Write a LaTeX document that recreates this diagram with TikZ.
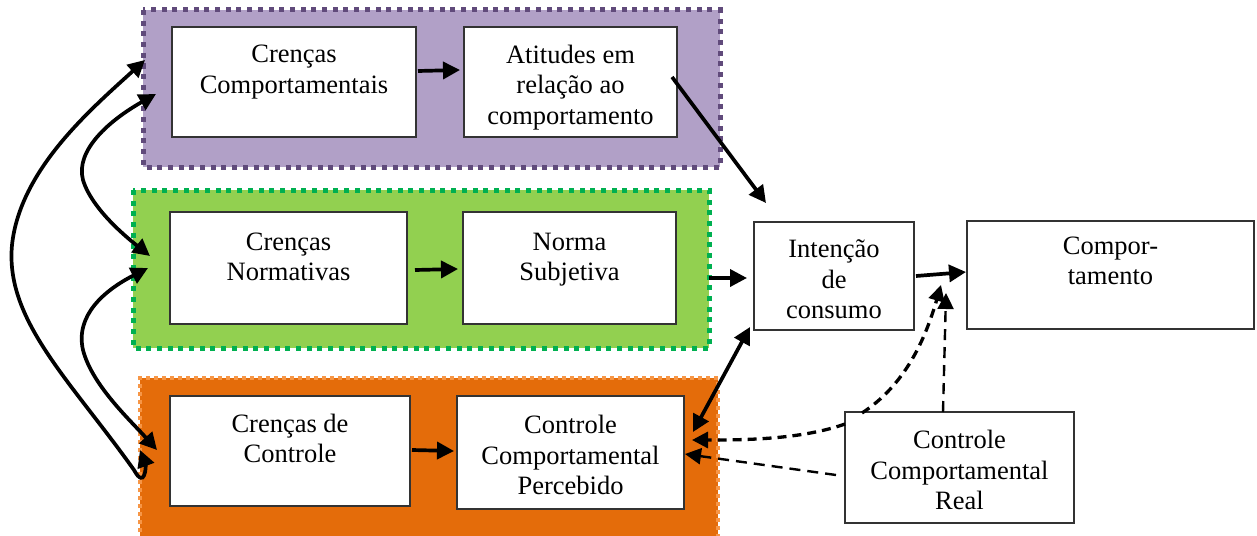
\documentclass[tikz,border=0pt]{standalone}
\usepackage{fontspec}
\setmainfont{Liberation Serif}
\usetikzlibrary{arrows.meta}
\definecolor{purfill}{HTML}{B1A0C7}
\definecolor{purline}{HTML}{604A7B}
\definecolor{grnfill}{HTML}{92D050}
\definecolor{grnline}{HTML}{00B050}
\definecolor{orgfill}{HTML}{E46C0A}
\definecolor{orgline}{HTML}{F79646}
\newcommand\mlines[2]{\raisebox{#1}[0pt][0pt]{\begin{tabular}{@{}c@{}}#2\end{tabular}}}
\tikzset{
  frame/.style={line width=5pt, dash pattern=on 5pt off 5.7pt},
  box/.style={draw=black!80, line width=1.2pt, fill=white, align=center, inner sep=0pt,
    font=\fontsize{26.5}{30.5}\selectfont},
  arr/.style={line width=3.7pt, -{Triangle[length=17pt,width=17pt]}},
  darr/.style={line width=3.7pt, {Triangle[length=17pt,width=17pt]}-{Triangle[length=17pt,width=17pt]}},
  dsh/.style={line width=3.3pt, dash pattern=on 9pt off 6pt, -{Triangle[length=16pt,width=16pt]}},
  dshthin/.style={line width=2.4pt, dash pattern=on 11pt off 7pt, -{Triangle[length=16pt,width=16pt]}},
}
\begin{document}
\begin{tikzpicture}[x=1pt,y=-1pt]
\useasboundingbox (0,0) rectangle (1257,535);
% frames
\draw[frame, draw=purline, fill=purfill] (143,10) rectangle (720,167);
\draw[frame, draw=grnline, fill=grnfill] (133,190) rectangle (709,348);
\fill[orgfill] (140,378) rectangle (718,540);
\draw[frame, line width=3.5pt, dash pattern=on 4pt off 4pt, draw=orgline] (140,540) -- (140,378) -- (718,378) -- (718,540);
% boxes
\node[box, minimum width=244pt, minimum height=110pt] (cc) at (294,82) {\mlines{3.9pt}{Crenças\\Comportamentais}};
\node[box, minimum width=213pt, minimum height=110pt] (at) at (570.5,82) {\mlines{-11.8pt}{Atitudes em\\relação ao\\comportamento}};
\node[box, minimum width=237pt, minimum height=112pt] (cn) at (288.5,268) {\mlines{2.4pt}{Crenças\\Normativas}};
\node[box, minimum width=213pt, minimum height=112pt] (ns) at (569.5,268) {\mlines{2.4pt}{Norma\\Subjetiva}};
\node[box, minimum width=240pt, minimum height=110pt] (cdc) at (290,451) {\mlines{3.4pt}{Crenças de\\Controle}};
\node[box, minimum width=227pt, minimum height=113pt] (ccp) at (570.5,452.5) {\mlines{-12.1pt}{Controle\\Comportamental\\Percebido}};
\node[box, minimum width=160pt, minimum height=108pt] (int) at (834,276) {\mlines{-12.4pt}{Intenção\\de\\consumo}};
\node[box, minimum width=287pt, minimum height=108pt] (cmp) at (1110.5,275) {\mlines{5.4pt}{Compor-\\tamento}};
\node[box, minimum width=229pt, minimum height=111pt] (ccr) at (959.5,467.5) {\mlines{-11.8pt}{Controle\\Comportamental\\Real}};
% coordinates for connector ends
\coordinate (a1) at (418,71);
\coordinate (a2) at (460,70);
\coordinate (b1) at (672,77);
\coordinate (b2) at (766,203);
\coordinate (c1) at (415,270);
\coordinate (c2) at (458,269);
\coordinate (d1) at (709,278);
\coordinate (d2) at (747,278);
\coordinate (e1) at (412,450);
\coordinate (e2) at (454,451);
\coordinate (f1) at (916,276);
\coordinate (f2) at (966,272);
\coordinate (g1) at (693,432);
\coordinate (g2) at (750,327);
% connectors
\draw[arr] (a1) -- (a2);
\draw[arr] (b1) -- (b2);
\draw[arr] (c1) -- (c2);
\draw[arr] (d1) -- (d2);
\draw[arr] (e1) -- (e2);
\draw[arr] (f1) -- (f2);
\draw[darr] (g1) -- (g2);
% dashed from real control
\coordinate (h1) at (862,413);
\coordinate (h2) at (941,285);
\draw[dsh] (h1) .. controls (905,385) and (925,340) .. (h2);
\coordinate (i1) at (845,424);
\coordinate (i2) at (692,440);
\draw[dsh] (i1) .. controls (800,440) and (740,440) .. (i2);
\coordinate (j1) at (836,475);
\coordinate (j2) at (685,454);
\draw[dshthin] (j1) -- (j2);
\coordinate (k1) at (943,412);
\coordinate (k2) at (946,293);
\draw[dshthin] (k1) -- (k2);
% left curved double arrows
\coordinate (l1) at (145,60);
\coordinate (l2) at (140,450);
\draw[darr] (l2) .. controls (146,466) and (145,490) .. (134,470)
  .. controls (70,380) and (5,320) .. (12,245)
  .. controls (20,170) and (90,110) .. (l1);
\coordinate (m1) at (156,94);
\coordinate (m2) at (150,256);
\draw[darr] (m1) .. controls (110,120) and (75,150) .. (83,180)
  .. controls (92,210) and (130,240) .. (m2);
\coordinate (n1) at (148,268);
\coordinate (n2) at (157,450);
\draw[darr] (n1) .. controls (105,290) and (75,315) .. (83,350)
  .. controls (92,385) and (130,420) .. (n2);
\end{tikzpicture}
\end{document}
